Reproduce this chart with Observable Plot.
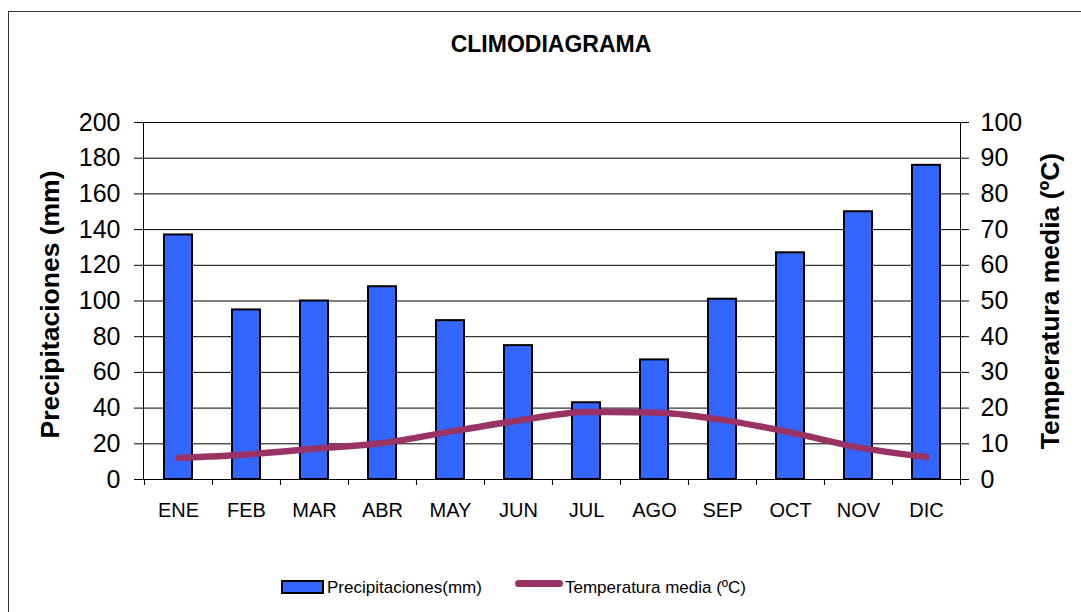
<!DOCTYPE html>
<html><head><meta charset="utf-8">
<script src="https://cdn.jsdelivr.net/npm/d3@7"></script>
<script src="https://cdn.jsdelivr.net/npm/@observablehq/plot@0.6"></script>
<style>
body{margin:0;background:#fff;}
#wrap{position:relative;width:1081px;height:612px;overflow:hidden;font-family:"Liberation Sans",Arial,sans-serif;color:#000;background:#fff;}
#border{position:absolute;left:8px;top:11px;width:1200px;height:700px;border:1px solid #333;box-sizing:border-box;}
#title{position:absolute;left:0;top:33px;width:1102px;text-align:center;font-weight:bold;font-size:23px;line-height:23px;}
#chart{position:absolute;left:0;top:90px;}
.leg{position:absolute;font-size:17px;line-height:17px;white-space:nowrap;}
#sw1{position:absolute;left:281px;top:580px;width:43px;height:14px;background:#3366FF;border:2px solid #000;box-sizing:border-box;}
#sw2{position:absolute;left:515px;top:580px;width:48px;height:7px;background:#993366;border-radius:3.5px;}
</style>
</head>
<body>
<div id="wrap">
  <div id="border"></div>
  <div id="title">CLIMODIAGRAMA</div>
  <div id="chart"></div>
  <div id="sw1"></div>
  <div class="leg" style="left:327px;top:579px;">Precipitaciones(mm)</div>
  <div id="sw2"></div>
  <div class="leg" style="left:565px;top:579px;">Temperatura media (ºC)</div>
</div>
<script>
const months = ["ENE","FEB","MAR","ABR","MAY","JUN","JUL","AGO","SEP","OCT","NOV","DIC"];
const precip = [137, 95, 100, 108, 89, 75, 43, 67, 101, 127, 150, 176];
const temp = [6.0, 7.0, 8.6, 10.2, 13.4, 16.5, 18.9, 18.8, 16.7, 13.2, 9.0, 6.3];
const precipTicks = [0, 20, 40, 60, 80, 100, 120, 140, 160, 180, 200];
const tempTicks = [0, 10, 20, 30, 40, 50, 60, 70, 80, 90, 100];

const data = months.map((m, i) => ({mes: m, prec: precip[i], temp: temp[i]}));

const W = 1081, H = 440, ML = 143, MR = 121, MT = 32, MB = 51;
const step = (W - ML - MR) / months.length;

const chart = Plot.plot({
  width: W, height: H,
  marginLeft: ML, marginRight: MR, marginTop: MT, marginBottom: MB,
  x: {type: "band", domain: months, paddingInner: 0.59, paddingOuter: 0.295},
  y: {domain: [0, 200]},
  style: {fontFamily: '"Liberation Sans", Arial, sans-serif', background: "transparent", color: "#000"},
  marks: [
    Plot.ruleY(precipTicks, {stroke: "#000"}),
    Plot.frame({stroke: "#000"}),
    Plot.barY(data, {x: "mes", y: "prec", fill: "#3366FF", stroke: "#000", strokeWidth: 2}),
    Plot.line(data, {x: "mes", y: d => d.temp * 2, stroke: "#993366", strokeWidth: 6.5, curve: "monotone-x"}),
    Plot.ruleX(months, {x: d => d, y1: 0, y2: 0, dx: -step / 2, insetBottom: -6, stroke: "#000"}),
    Plot.ruleX([months[months.length - 1]], {x: d => d, y1: 0, y2: 0, dx: step / 2, insetBottom: -6, stroke: "#000"}),
    Plot.axisY(precipTicks, {anchor: "left", tickSize: 9, tickPadding: 14, fontSize: 25, label: null}),
    Plot.axisY(tempTicks.map(t => t * 2), {anchor: "right", tickSize: 8, tickPadding: 12, fontSize: 25, tickFormat: d => d / 2, label: null}),
    Plot.axisX({tickSize: 0, tickPadding: 23, fontSize: 20, label: null}),
    Plot.text(["Precipitaciones (mm)"], {text: d => d, frameAnchor: "left", textAnchor: "middle", rotate: -90, dx: -93, dy: 3.5, fontSize: 26.5, fontWeight: "bold"}),
    Plot.text(["Temperatura media (ºC)"], {text: d => d, frameAnchor: "right", textAnchor: "middle", rotate: -90, dx: 90, fontSize: 26.5, fontWeight: "bold"})
  ]
});
document.getElementById("chart").appendChild(chart);
</script>
</body></html>
